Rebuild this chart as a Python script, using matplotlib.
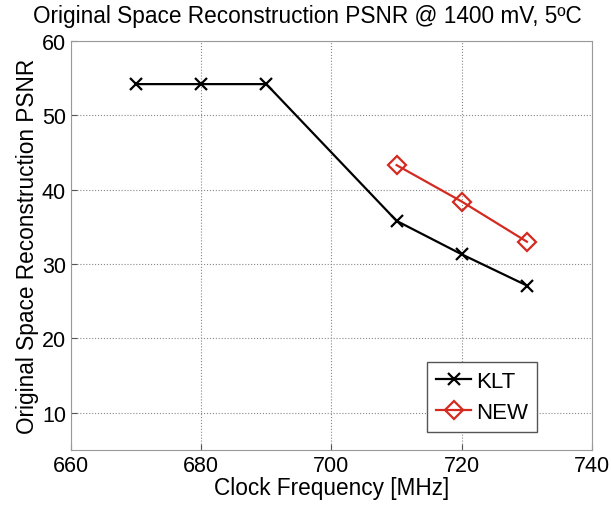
import matplotlib
matplotlib.use("Agg")
import matplotlib.pyplot as plt

plt.rcParams["font.family"] = ["Liberation Sans", "DejaVu Sans"]

freq_klt = [670, 680, 690, 710, 720, 730]
psnr_klt = [54.2, 54.2, 54.2, 35.8, 31.3, 27.1]
freq_new = [710, 720, 730]
psnr_new = [43.3, 38.4, 33.0]

fig = plt.figure(figsize=(6.11, 5.06), dpi=100)
ax = fig.add_axes([0.116, 0.109, 0.853, 0.808])

ax.plot(freq_klt, psnr_klt, color="black", marker="x", markersize=9,
        markeredgewidth=1.6, linewidth=1.6, label="KLT")
ax.plot(freq_new, psnr_new, color="#d42a20", marker="D", markersize=9,
        markerfacecolor="none", markeredgewidth=1.6, linewidth=1.6, label="NEW")

ax.set_xlim(660, 740)
ax.set_ylim(5, 60)
ax.set_xticks([660, 680, 700, 720, 740])
ax.set_yticks([10, 20, 30, 40, 50, 60])
ax.tick_params(labelsize=15.5, direction="in", length=4, color="#555555")
ax.grid(True, linestyle=":", color="#888888", linewidth=0.8)
for s in ax.spines.values():
    s.set_color("#999999")

fig.text(0.503, 0.968, "Original Space Reconstruction PSNR @ 1400 mV, 5ºC",
         fontsize=16.3, ha="center", va="center")
ax.set_xlabel("Clock Frequency [MHz]", fontsize=16.3, labelpad=0)
ax.set_ylabel("Original Space Reconstruction PSNR", fontsize=16.3, labelpad=2)

leg = ax.legend(loc="lower right", bbox_to_anchor=(0.894, 0.044), fontsize=16,
                handlelength=1.6, handletextpad=0.2, borderpad=0.4,
                labelspacing=0.45, borderaxespad=0, fancybox=False, framealpha=1)
leg.get_frame().set_edgecolor("#555555")

fig.savefig("out.png", dpi=100)
